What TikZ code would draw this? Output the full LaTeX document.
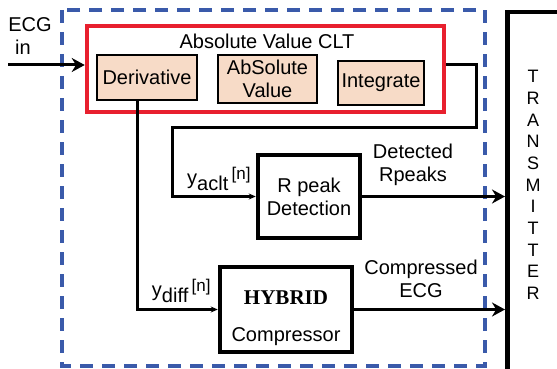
\documentclass[tikz,border=0pt]{standalone}
\usepackage{fontspec}
\setmainfont{Liberation Sans}
\newfontfamily\hybfont{Liberation Serif}
\usetikzlibrary{positioning,arrows.meta,calc}
\definecolor{cltred}{RGB}{232,32,46}
\definecolor{dashblue}{RGB}{58,90,170}
\definecolor{blockfill}{RGB}{247,219,199}
\newcommand{\sig}[1]{y\raisebox{-6pt}{#1}\,\raisebox{5pt}{\fontsize{17}{17}\selectfont[n]}}
\tikzset{
  cltblock/.style={draw,line width=2pt,fill=blockfill,align=center,inner sep=2pt},
  plainblock/.style={draw,line width=4.5pt,align=center},
  wire/.style={line width=3pt},
  bigarrow/.style={-{Stealth[length=13pt,width=14pt]}},
  smallarrow/.style={-{Stealth[length=7pt,width=6pt]}},
}

\begin{document}
\begin{tikzpicture}[x=1pt,y=-1pt,font=\fontsize{20}{23}\selectfont]
					\useasboundingbox (0,0) rectangle (557,369);
					\draw[dashblue,line width=3.5pt,dash pattern=on 13pt off 9pt] (62,10) rectangle (485,366);
					\node[draw=cltred,line width=4.5pt,minimum width=357pt,minimum height=86pt] (clt) at (265.5,69) {};
					\node (clttitle) at (267,41) {Absolute Value CLT};
					\node[cltblock,minimum width=100pt,minimum height=45pt] (deriv) at (147,77.5) {Derivative};
					\node[cltblock,minimum width=99pt,minimum height=48pt] (absval) at (267.5,79) {AbSolute\\Value};
					\node[cltblock,minimum width=86pt,minimum height=44pt] (integ) at (381,83) {Integrate};
					\node[plainblock,minimum width=102pt,minimum height=83pt] (rpeak) at (309,196.5) {R peak\\Detection};
					\node[plainblock,minimum width=132pt,minimum height=85pt] (hybrid) at (286,309.5) {};
					\node[font=\fontsize{21}{23}\hybfont\bfseries] (hybtitle) at ([yshift=12pt]hybrid.center) {HYBRID};
					\node (hybsub) at ([yshift=-27pt]hybrid.center) {Compressor};
					% transmitter
					\node[draw,line width=4.5pt,minimum width=100pt,minimum height=380pt,anchor=north west] (tx) at (505,10) {};
					\foreach \ch [count=\i] in {T,R,A,N,S,M,I,T,T,E,R}
						\node[font=\fontsize{18}{20}\selectfont,inner sep=0pt] (tx-\i) at (533,{76.5+21.7*(\i-1)}) {\ch};
					\node (ecglbl) at (30,24.5) {ECG};
					\node (inlbl) at (23,47) {in};
					\coordinate (ecgin) at (8,65);
					\draw[wire,bigarrow] (ecgin) -- (ecgin -| clt.west);
					\coordinate (loopright) at (476,127);
					\coordinate (loopleft) at (172,127);
					\draw[wire,smallarrow] ([yshift=4pt]clt.east) -| (loopright) -- (loopleft) |- (rpeak.west);
					\draw[wire,smallarrow] ([xshift=-10pt]deriv.south) |- (hybrid.west);
					\draw[wire,bigarrow] (rpeak.east) -- (rpeak.east -| tx.west);
					\draw[wire,bigarrow] (hybrid.east) -- (hybrid.east -| tx.west);
					\node[anchor=south east,inner sep=1pt] (yaclt) at ([xshift=-4pt,yshift=5pt]rpeak.west) {\sig{aclt}};
					\node[anchor=south east,inner sep=1pt] (ydiff) at ([xshift=-6pt,yshift=6pt]hybrid.west) {\sig{diff}};
					\node[align=center] (detlbl) at (413,165) {Detected\\Rpeaks};
					\node[align=center] (complbl) at (421,279) {Compressed\\ECG};
				\end{tikzpicture}
\end{document}
